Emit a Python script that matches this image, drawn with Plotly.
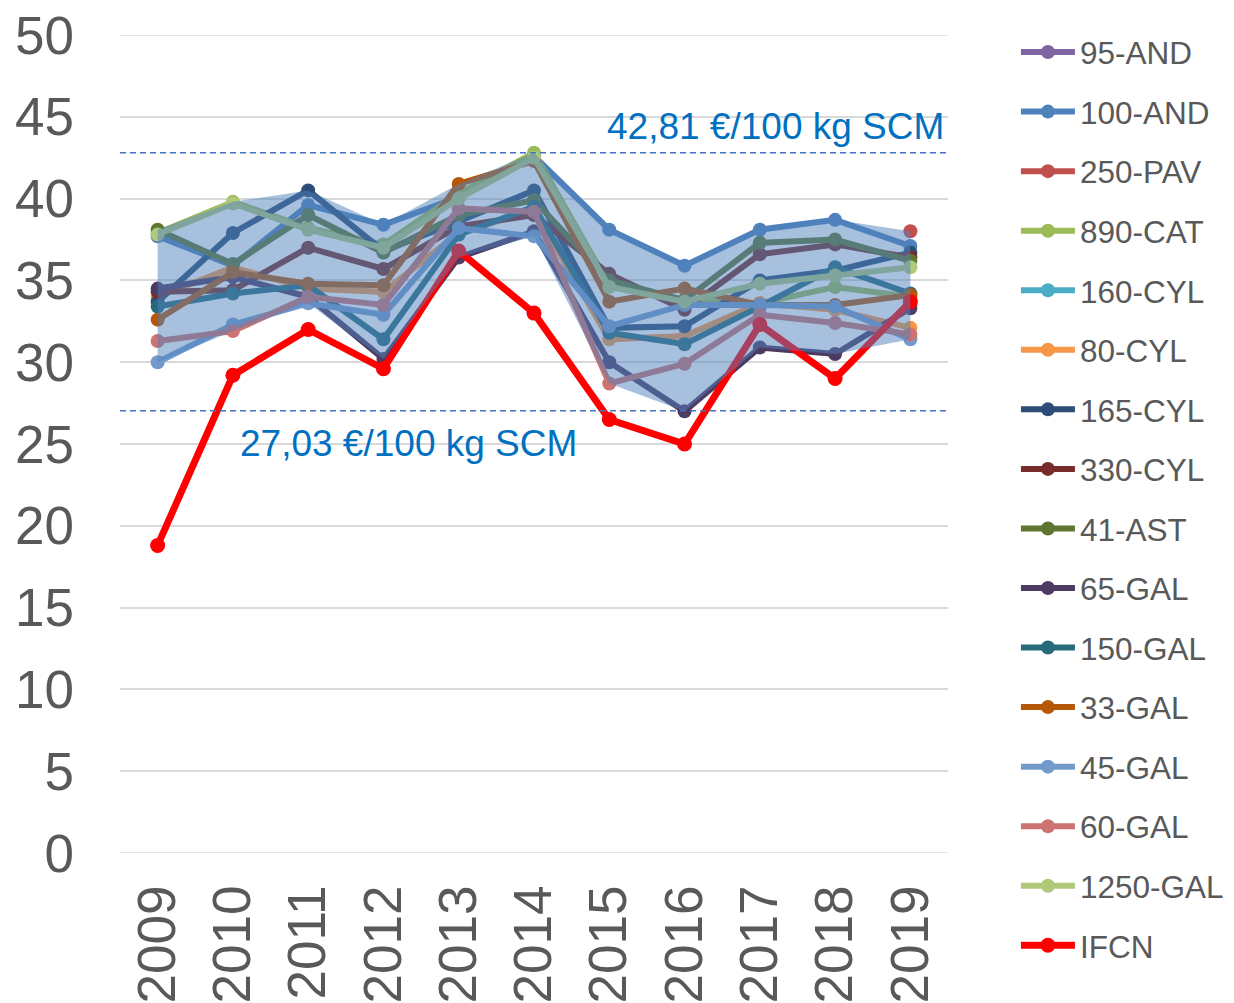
import plotly.graph_objects as go

years = ["2009", "2010", "2011", "2012", "2013", "2014", "2015", "2016", "2017", "2018", "2019"]

s_95_AND = [None, None, None, None, None, None, None, None, None, None, None]
s_100_AND = [37.7, 35.9, 39.6, 38.4, 40.1, 42.6, 38.1, 35.9, 38.1, 38.7, 37.1]
s_250_PAV = [None, None, None, None, None, None, None, None, None, None, 38.0]
s_890_CAT = [37.9, 39.8, 38.2, 37.2, 40.3, 42.8, 34.7, 33.8, 33.6, 34.6, 34.0]
s_160_CYL = [None, None, None, None, None, None, None, None, None, None, None]
s_80_CYL = [34.0, 35.8, 34.5, 34.3, 37.9, 39.3, 31.4, 31.6, 33.6, 33.2, 32.1]
s_165_CYL = [33.7, 37.9, 40.5, 36.8, 38.6, 40.5, 32.1, 32.2, 35.0, 35.6, 36.7]
s_330_CYL = [34.3, 34.4, 37.0, 35.7, 38.3, 39.0, 35.4, 33.2, 36.6, 37.2, 36.4]
s_41_AST = [38.1, 36.0, 39.0, 36.7, 39.0, 39.9, 35.0, 33.8, 37.3, 37.5, 36.2]
s_65_GAL = [34.5, 35.2, 34.0, 30.2, 36.4, 38.0, 30.0, 27.0, 30.9, 30.5, 33.3]
s_150_GAL = [33.4, 34.2, 34.7, 31.4, 37.8, 39.5, 31.8, 31.1, 33.4, 35.8, 34.2]
s_33_GAL = [32.6, 35.5, 34.8, 34.7, 40.9, 42.3, 33.7, 34.5, 33.5, 33.5, 34.1]
s_45_GAL = [30.0, 32.3, 33.6, 32.9, 38.2, 37.7, 32.2, 33.5, 33.5, 33.4, 31.4]
s_60_GAL = [31.3, 31.9, 34.0, 33.5, 39.4, 39.2, 28.7, 29.9, 32.9, 32.4, 31.7]
s_1250_GAL = [37.8, 39.7, 38.1, 37.0, 40.0, 42.5, 34.6, 33.7, 34.8, 35.3, 35.8]
s_IFCN = [18.8, 29.2, 32.0, 29.6, 36.8, 33.0, 26.5, 25.0, 32.3, 29.0, 33.7]

series_names = ["95-AND", "100-AND", "250-PAV", "890-CAT", "160-CYL", "80-CYL", "165-CYL",
                "330-CYL", "41-AST", "65-GAL", "150-GAL", "33-GAL", "45-GAL", "60-GAL",
                "1250-GAL", "IFCN"]
series_values = [s_95_AND, s_100_AND, s_250_PAV, s_890_CAT, s_160_CYL, s_80_CYL, s_165_CYL,
                 s_330_CYL, s_41_AST, s_65_GAL, s_150_GAL, s_33_GAL, s_45_GAL, s_60_GAL,
                 s_1250_GAL, s_IFCN]
series_colors = ["#8064A2", "#4F81BD", "#C0504D", "#9BBB59", "#4BACC6", "#F79646", "#2C4D75",
                 "#772C2A", "#5F7530", "#4D3B62", "#276A7C", "#B65708", "#729ACA", "#CD7371",
                 "#AFC97A", "#FF0000"]

upper_label = "42,81 €/100 kg SCM"
lower_label = "27,03 €/100 kg SCM"
upper_ref = 42.81
lower_ref = 27.03
y_min, y_max = 0, 50

FONT = "Arial, Liberation Sans, sans-serif"
fig = go.Figure()

for name, vals, col in zip(series_names, series_values, series_colors):
    is_ifcn = name == "IFCN"
    fig.add_trace(go.Scatter(
        x=years, y=vals, name=name, mode="lines+markers",
        line=dict(color=col, width=7 if is_ifcn else 6),
        marker=dict(color=col, size=15 if is_ifcn else 14),
        legendgroup=name, connectgaps=False,
    ))

# min-max envelope of the farms (excluding IFCN)
farm_vals = series_values[:-1]
band_max, band_min = [], []
for i in range(len(years)):
    col_vals = [v[i] for v in farm_vals if v[i] is not None]
    band_max.append(max(col_vals))
    band_min.append(min(col_vals))

fig.add_trace(go.Scatter(
    x=years + years[::-1], y=band_max + band_min[::-1],
    fill="toself", fillcolor="rgba(79,129,189,0.5)",
    line=dict(width=0), mode="lines", showlegend=False, hoverinfo="skip",
))

# gridlines at the range edges (plotly drops them)
for yv in (y_min, y_max):
    fig.add_shape(type="line", xref="paper", yref="y", x0=0, x1=1, y0=yv, y1=yv,
                  line=dict(color="#D9D9D9", width=1.5), layer="below")

for yv in (upper_ref, lower_ref):
    fig.add_shape(type="line", xref="paper", yref="y", x0=0, x1=1, y0=yv, y1=yv,
                  line=dict(color="#4472C4", width=1.5, dash="6px,4px"), layer="above")

fig.add_annotation(text=upper_label, xref="paper", yref="y", x=0.997, y=44.4,
                   xanchor="right", yanchor="middle", showarrow=False,
                   font=dict(family=FONT, size=37, color="#0070C0"))
fig.add_annotation(text=lower_label, xref="paper", yref="y", x=0.142, y=25.06,
                   xanchor="left", yanchor="middle", showarrow=False,
                   font=dict(family=FONT, size=37, color="#0070C0"))

fig.update_layout(
    width=1234, height=1003,
    margin=dict(l=112, r=294, t=27, b=158, autoexpand=False),
    paper_bgcolor="white", plot_bgcolor="white",
    font=dict(family=FONT, color="#595959"),
    showlegend=True,
    legend=dict(xref="container", yref="container", x=0.8168, y=0.983,
                xanchor="left", yanchor="top",
                font=dict(family=FONT, size=31.5, color="#595959"),
                tracegroupgap=15.6, itemwidth=54, maxheight=1000,
                bgcolor="rgba(0,0,0,0)"),
    xaxis=dict(type="category", range=[-0.5, len(years) - 0.5],
               showgrid=False, zeroline=False, showline=False,
               automargin=False, ticklabeloverflow="allow",
               tickangle=-90, tickfont=dict(family=FONT, size=53, color="#595959"),
               ticklabelstandoff=21),
    yaxis=dict(range=[y_min, y_max], dtick=5, showgrid=True, gridcolor="#D9D9D9", gridwidth=1.5,
               zeroline=False, showline=False, automargin=False, ticklabeloverflow="allow",
               tickfont=dict(family=FONT, size=53, color="#595959"),
               ticklabelstandoff=45),
)

fig.write_html("out.html")
